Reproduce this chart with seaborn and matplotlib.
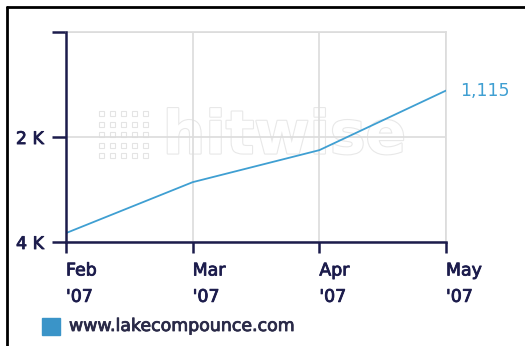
import matplotlib
matplotlib.use("Agg")
import matplotlib.pyplot as plt
import matplotlib.patheffects as pe
from matplotlib.lines import Line2D
from matplotlib.patches import Rectangle
import seaborn as sns
import pandas as pd

# Monthly rank of the site (lower is better, axis inverted)
months = ["Feb\n'07", "Mar\n'07", "Apr\n'07", "May\n'07"]
rank = [3830, 2860, 2250, 1115]
y_ticks = [0, 2000, 4000]
y_tick_labels = ["", "2 K", "4 K"]
series_name = "www.lakecompounce.com"

navy = "#1c1c4c"
line_blue = "#3f9fd2"
grid_grey = "#dcdcdc"
fs = 12.5


def heavier(color):
    return [pe.withStroke(linewidth=0.6, foreground=color)]


sns.set_theme(style="white")
plt.rcParams["font.family"] = ["DejaVu Sans"]

df = pd.DataFrame({"x": range(len(months)), "rank": rank})

fig = plt.figure(figsize=(5.25, 3.46), dpi=100)
ax = fig.add_axes([66 / 525, 1 - 242 / 346, (446 - 66) / 525, (242 - 32) / 346])

# faint watermark behind the data
ax.text(0.575, 0.50, "hitwise", transform=ax.transAxes, ha="center", va="center",
        fontsize=43, fontweight="bold", color="white", zorder=0.5,
        path_effects=[pe.withStroke(linewidth=1.6, foreground="#e8e8e8")])
for i in range(5):
    for j in range(5):
        ax.plot(0.092 + 0.029 * j, 0.414 + 0.05 * i, marker="s", ms=3.6,
                mfc="white", mec="#e4e4e4", mew=0.8, transform=ax.transAxes,
                zorder=0.5)

sns.lineplot(data=df, x="x", y="rank", ax=ax, color=line_blue, linewidth=1.3,
             zorder=3, legend=False)

ax.set_xlim(0, len(months) - 1)
ax.set_ylim(4000, -1)
ax.set_xticks(range(len(months)))
ax.set_xticklabels(months, ha="left", color=navy, fontsize=fs,
                   linespacing=1.6, path_effects=heavier(navy))
ax.set_yticks(y_ticks)
ax.set_yticklabels(y_tick_labels, color=navy, fontsize=fs,
                   path_effects=heavier(navy))
ax.set_xlabel("")
ax.set_ylabel("")

ax.grid(True, color=grid_grey, linewidth=1.2)
ax.set_axisbelow(True)
for side in ["top", "right"]:
    ax.spines[side].set_visible(True)
    ax.spines[side].set_color(grid_grey)
    ax.spines[side].set_linewidth(1.2)
for side in ["left", "bottom"]:
    ax.spines[side].set_color(navy)
    ax.spines[side].set_linewidth(1.8)
    ax.spines[side].set_zorder(4)
ax.tick_params(axis="x", bottom=True, direction="out", length=8, width=1.8,
               color=navy, pad=6)
ax.tick_params(axis="y", left=True, direction="out", length=10, width=1.8,
               color=navy, pad=6)

# end-value label
ax.annotate(f"{rank[-1]:,}", xy=(len(months) - 1, rank[-1]), xytext=(10, 0),
            textcoords="offset points", color=line_blue, fontsize=fs,
            va="center", ha="left", annotation_clip=False)

# legend
fig.patches.append(Rectangle((42 / 525, 1 - 335 / 346), 18 / 525, 17 / 346,
                             transform=fig.transFigure, color="#3a94c8"))
fig.text(69 / 525, 1 - 326 / 346, series_name, color="#2a2a48", fontsize=fs,
         va="center", ha="left", path_effects=heavier("#2a2a48"))

# frame edges
fig.add_artist(Line2D([6.5 / 525, 6.5 / 525], [0, 1 - 6.5 / 346], color="black",
                      lw=2, transform=fig.transFigure, zorder=10))
fig.add_artist(Line2D([6.5 / 525, 1], [1 - 6.5 / 346, 1 - 6.5 / 346], color="black",
                      lw=2, transform=fig.transFigure, zorder=10))

fig.savefig("out.png", dpi=100, facecolor="white")
